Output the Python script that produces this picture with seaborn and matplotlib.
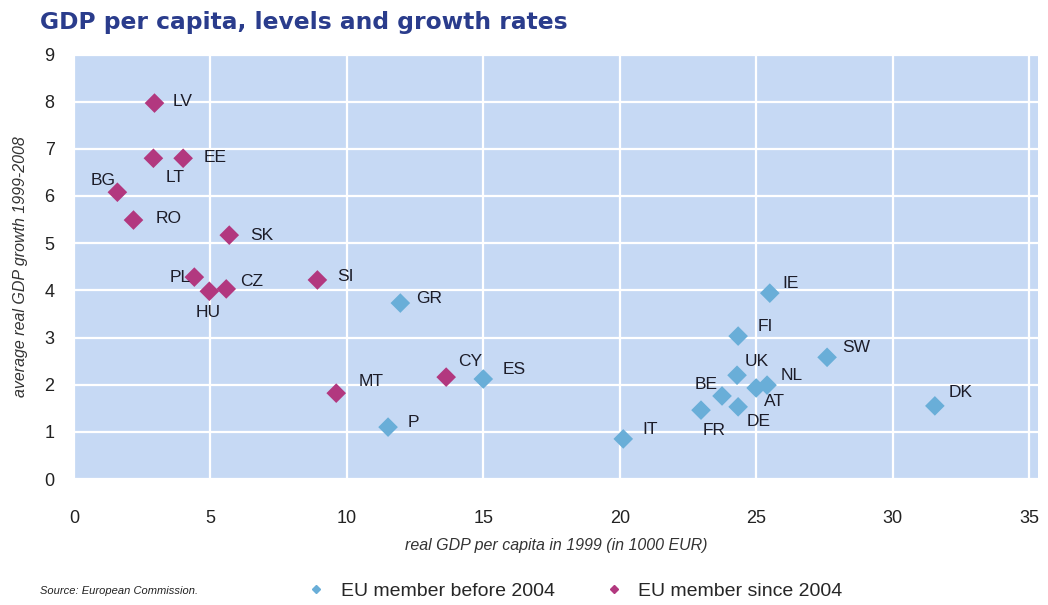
import matplotlib
matplotlib.use("Agg")
import matplotlib.pyplot as plt
import seaborn as sns
import pandas as pd

# Data
countries = ['LV', 'LT', 'EE', 'BG', 'RO', 'SK', 'PL', 'HU', 'CZ', 'SI', 'MT', 'CY',
             'GR', 'ES', 'P', 'IT', 'IE', 'FI', 'SW', 'UK', 'BE', 'FR', 'DE', 'AT', 'NL', 'DK']
gdp_1999 = [2.95, 2.91, 4.0, 1.59, 2.18, 5.69, 4.41, 4.96, 5.58, 8.92, 9.61, 13.64,
            11.96, 15.0, 11.51, 20.13, 25.5, 24.34, 27.6, 24.3, 23.75, 22.98, 24.34, 25.0, 25.4, 31.55]
growth = [7.97, 6.8, 6.8, 6.08, 5.49, 5.17, 4.28, 3.98, 4.03, 4.22, 1.82, 2.16,
          3.73, 2.12, 1.10, 0.85, 3.94, 3.03, 2.58, 2.20, 1.76, 1.46, 1.53, 1.93, 1.99, 1.55]
group = ['EU member since 2004'] * 12 + ['EU member before 2004'] * 14

# label placement (pixels from the marker, horizontal alignment)
label_pos = {
    'LV': (18, 2, 'left'), 'LT': (22, -19, 'center'), 'EE': (20, 1, 'left'),
    'BG': (-14, 12, 'center'), 'RO': (22, 2, 'left'), 'SK': (21, 0, 'left'),
    'PL': (-14, 0, 'center'), 'HU': (-1, -21, 'center'), 'CZ': (14, 7, 'left'),
    'SI': (20, 3, 'left'), 'MT': (22, 12, 'left'), 'CY': (24, 16, 'center'),
    'GR': (16, 5, 'left'), 'ES': (19, 10, 'left'), 'P': (20, 5, 'left'),
    'IT': (19, 9, 'left'), 'IE': (13, 10, 'left'), 'FI': (19, 10, 'left'),
    'SW': (15, 10, 'left'), 'UK': (8, 14, 'left'), 'BE': (-4, 11, 'right'),
    'FR': (2, -20, 'left'), 'DE': (8, -15, 'left'), 'AT': (8, -14, 'left'),
    'NL': (14, 10, 'left'), 'DK': (14, 13, 'left'),
}

df = pd.DataFrame({'country': countries, 'gdp': gdp_1999, 'growth': growth, 'group': group})

sns.set_style("white")
plt.rcParams['font.family'] = ['Liberation Sans', 'DejaVu Sans']

fig = plt.figure(figsize=(10.48, 6.05), dpi=100)
ax = fig.add_axes([74 / 1048, 1 - 479 / 605, 964 / 1048, 424.5 / 605])
ax.set_facecolor('#c6d9f4')

palette = {'EU member before 2004': '#69aed8', 'EU member since 2004': '#b2387f'}
sns.scatterplot(data=df, x='gdp', y='growth', hue='group', palette=palette,
                marker='D', s=100, edgecolor='none', legend=False, ax=ax, zorder=3)

for c, xv, yv in zip(countries, gdp_1999, growth):
    dx, dy, ha = label_pos[c]
    ax.annotate(c, (xv, yv), xytext=(dx, dy), textcoords='offset pixels',
                ha=ha, va='center', fontsize=12.5, color='#1c1c28', zorder=4)

ax.set_xlim(0, 35.33)
ax.set_ylim(0, 9)
ax.set_xticks(range(0, 40, 5))
ax.set_yticks(range(0, 10))
ax.grid(True, color='white', linewidth=1.6)
ax.set_axisbelow(True)
for sp in ax.spines.values():
    sp.set_visible(False)
ax.tick_params(axis='both', length=0, labelsize=13, colors='#222222')
ax.tick_params(axis='x', pad=22)
ax.tick_params(axis='y', pad=14)

ax.set_xlabel('real GDP per capita in 1999 (in 1000 EUR)', fontsize=11.5, style='italic',
              color='#333333', labelpad=8)
ax.set_ylabel('average real GDP growth 1999-2008', fontsize=11.5, style='italic',
              color='#333333', labelpad=12)

fig.text(40 / 1048, 1 - 22 / 605, 'GDP per capita, levels and growth rates',
         fontsize=16.8, fontweight='bold', color='#2a3c8c', family=['DejaVu Sans'],
         va='center', ha='left')
fig.text(40 / 1048, 1 - 591 / 605, 'Source: European Commission.', fontsize=8,
         style='italic', color='#222222', va='center', ha='left')

handles = [plt.Line2D([], [], marker='D', linestyle='none', color=palette[k], markersize=4.5)
           for k in ['EU member before 2004', 'EU member since 2004']]
fig.legend(handles, ['EU member before 2004', 'EU member since 2004'],
           loc='center left', bbox_to_anchor=(298 / 1048, 1 - 591 / 605), ncol=2,
           frameon=False, fontsize=14, handlelength=0.9, handletextpad=0.8,
           columnspacing=2.6, borderpad=0)

fig.savefig('out.png', dpi=100)
